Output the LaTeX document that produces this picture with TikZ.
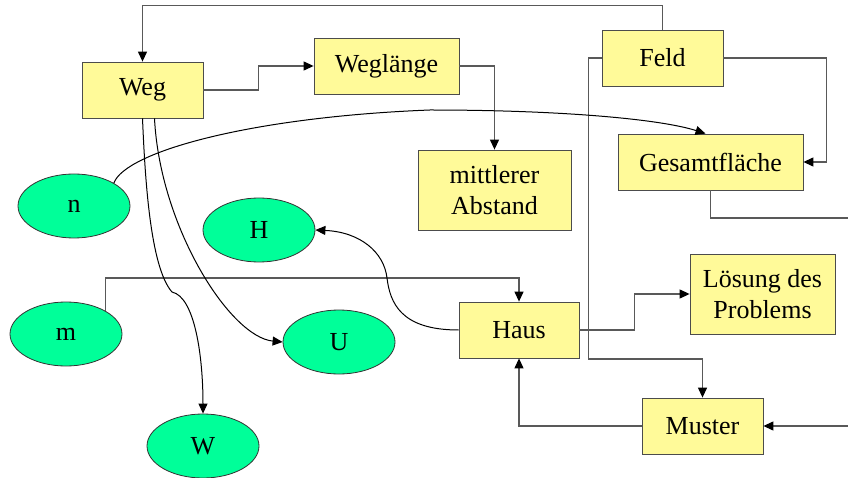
\documentclass[tikz,border=0pt]{standalone}
\usepackage{fontspec}
\setmainfont{Liberation Serif}
\usetikzlibrary{arrows.meta,shapes.geometric}
\begin{document}
\begin{tikzpicture}[x=1pt, y=1pt,
		font=\fontsize{26}{31}\selectfont,
		box/.style={draw=black!70, line width=0.8pt, fill=yellow!40, minimum width=121pt, minimum height=56pt, inner sep=0pt, align=center},
		oval/.style={ellipse, draw=black!80, line width=0.8pt, fill={rgb,255:red,0;green,255;blue,153}, minimum width=112pt, minimum height=64pt, inner sep=0pt},
		conn/.style={draw=black!65, line width=1.2pt, -{Triangle[length=10pt,width=9pt,color=black]}},
		curve/.style={draw=black, line width=1pt, -{Triangle[length=10pt,width=9pt]}}]
	\useasboundingbox (0, 0) rectangle (848, 477);
	% Kaesten
	\node[box] (weg) at (142.5, 387) {Weg};
	\node[box, minimum width=145pt] (laenge) at (386.5, 411) {Weglänge};
	\node[box] (feld) at (662.5, 419) {Feld};
	\node[box, minimum width=153pt, minimum height=80pt] (abstand) at (494.5, 287) {mittlerer\\Abstand};
	\node[box, minimum width=185pt] (gesamt) at (710.5, 315) {Gesamtfläche};
	\node[box, minimum width=120pt] (haus) at (519, 147) {Haus};
	\node[box, minimum width=145pt, minimum height=80pt] (loesung) at (762.5, 183) {Lösung des\\Problems};
	\node[box] (muster) at (702.5, 51) {Muster};
	% Ellipsen
	\node[oval] (n) at (74, 271) {n};
	\node[oval] (h) at (259, 247) {H};
	\node[oval] (m) at (66, 143) {m};
	\node[oval] (u) at (339, 135) {U};
	\node[oval] (w) at (203, 31) {W};
	\coordinate (rechtsA) at (848, 259);
	\coordinate (rechtsB) at (848, 51);
	% Verbindungen
	\draw[conn] (feld.north) -- ++(0, 24) -| (weg.north);
	\draw[conn] (weg.east) -- ++(55, 0) |- (laenge.west);
	\draw[conn] (laenge.east) -| (abstand.north);
	\draw[conn] (feld.east) -- ++(103, 0) |- (gesamt.east);
	\draw[conn, -] (gesamt.south) |- (rechtsA);
	\draw[conn] (feld.west) -| ++(-13, -301) -| (muster.north);
	\draw[conn] (rechtsB) -- (muster.east);
	\draw[conn] (muster.west) -| (haus.south);
	\draw[conn] (haus.east) -- ++(55, 0) |- (loesung.west);
	\draw[conn] (m.north east) -- ++(0, 33) -| (haus.north);
	\draw[curve] (n.north east) .. controls (125, 325) and (250, 360) .. (430, 367) .. controls (560, 367) and (660, 358) .. ([xshift=-5pt]gesamt.north);
	\draw[curve] (haus.west) .. controls (400, 147) and (390, 175) .. (387, 199) .. controls (384, 225) and (360, 245) .. (h.east);
	\draw[curve] (weg.south) .. controls (145, 300) and (150, 210) .. (172, 185) .. controls (195, 180) and (203, 120) .. (w.north);
	\draw[curve] ([xshift=12pt]weg.south) .. controls (160, 250) and (230, 140) .. (u.west);
\end{tikzpicture}
\end{document}
